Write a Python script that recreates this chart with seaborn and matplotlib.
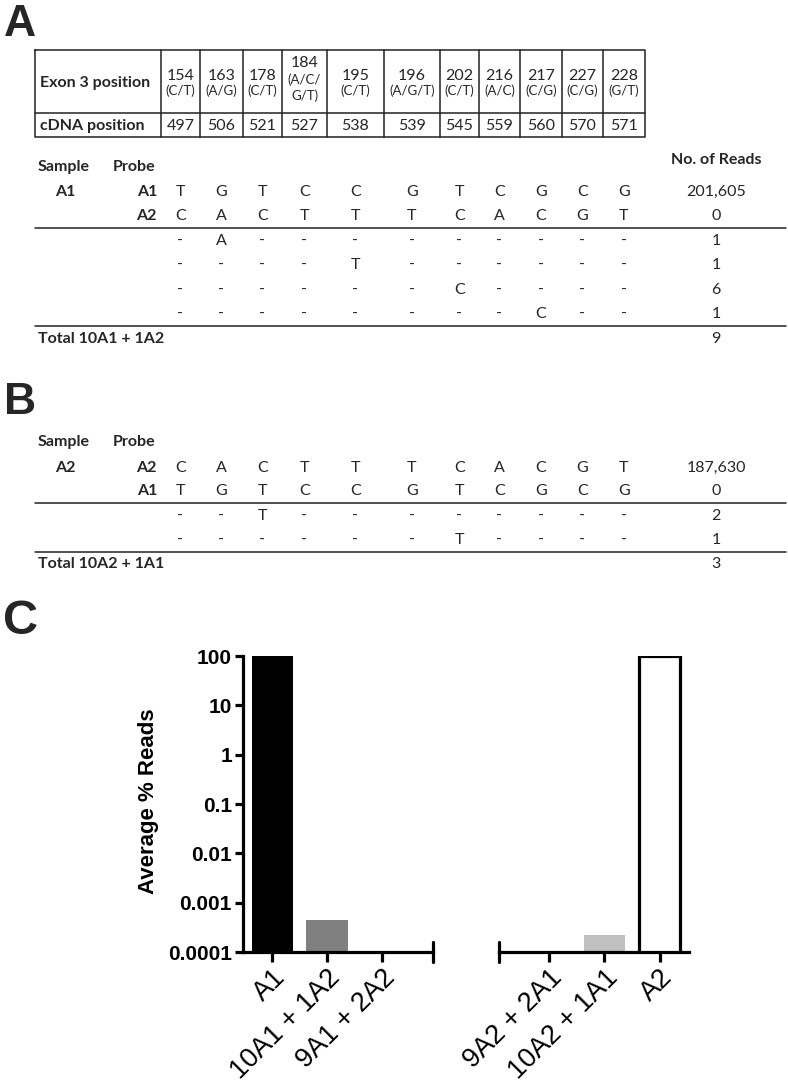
import numpy as np
import pandas as pd
import matplotlib
matplotlib.use("Agg")
import matplotlib.pyplot as plt
from matplotlib.ticker import NullLocator
import seaborn as sns

# ---------------- data ----------------
exon_positions = ["154", "163", "178", "184", "195", "196", "202", "216", "217", "227", "228"]
exon_alleles = ["(C/T)", "(A/G)", "(C/T)", "(A/C/\nG/T)", "(C/T)", "(A/G/T)", "(C/T)",
                "(A/C)", "(C/G)", "(C/G)", "(G/T)"]
cdna_positions = ["497", "506", "521", "527", "538", "539", "545", "559", "560", "570", "571"]

a1_probe = ["T", "G", "T", "C", "C", "G", "T", "C", "G", "C", "G"]
a2_probe = ["C", "A", "C", "T", "T", "T", "C", "A", "C", "G", "T"]

# panel A: sample A1
a_probe_rows = [("A1", a1_probe, "201,605"), ("A2", a2_probe, "0")]
a_variants = [
    ["-", "A", "-", "-", "-", "-", "-", "-", "-", "-", "-"],
    ["-", "-", "-", "-", "T", "-", "-", "-", "-", "-", "-"],
    ["-", "-", "-", "-", "-", "-", "C", "-", "-", "-", "-"],
    ["-", "-", "-", "-", "-", "-", "-", "-", "C", "-", "-"],
]
a_variant_reads = ["1", "1", "6", "1"]
a_total_label = "Total 10A1 + 1A2"
a_total = "9"

# panel B: sample A2
b_probe_rows = [("A2", a2_probe, "187,630"), ("A1", a1_probe, "0")]
b_variants = [
    ["-", "-", "T", "-", "-", "-", "-", "-", "-", "-", "-"],
    ["-", "-", "-", "-", "-", "-", "T", "-", "-", "-", "-"],
]
b_variant_reads = ["2", "1"]
b_total_label = "Total 10A2 + 1A1"
b_total = "3"

# panel C: bars
left_groups = ["A1", "10A1 + 1A2", "9A1 + 2A2"]
left_values = [100.0, 0.00045, np.nan]
left_colors = ["#000000", "#808080", "#ffffff"]
right_groups = ["9A2 + 2A1", "10A2 + 1A1", "A2"]
right_values = [np.nan, 0.00022, 100.0]
right_colors = ["#ffffff", "#c0c0c0", "#ffffff"]
outlined_groups = ["A2"]
ytick_values = [1e-4, 1e-3, 1e-2, 1e-1, 1, 10, 100]
ytick_labels = ["0.0001", "0.001", "0.01", "0.1", "1", "10", "100"]

# ---------------- figure ----------------
sns.set_theme(style="white")
plt.rcParams["font.family"] = ["Lato", "DejaVu Sans"]

W, H = 788, 1083
fig = plt.figure(figsize=(W / 100, H / 100), dpi=100)
fig.patch.set_facecolor("white")

ov = fig.add_axes([0, 0, 1, 1], zorder=0)
ov.set_xlim(0, W)
ov.set_ylim(H, 0)
ov.axis("off")

TXT = 11.5
LW = 1.1
letter_font = ["Liberation Sans", "DejaVu Sans"]

# panel letters
ov.text(4, 24, "A", fontsize=32, fontweight="bold", family=letter_font, va="center", ha="left")
ov.text(4, 403, "B", fontsize=32, fontweight="bold", family=letter_font, va="center", ha="left")
ov.text(3, 622, "C", fontsize=35, fontweight="bold", family=letter_font, va="center", ha="left")

# table (panel A header)
col_edges = [161, 200, 243, 282, 327, 384, 440, 479, 520, 562, 603, 645]
col_centers = [(col_edges[i] + col_edges[i + 1]) / 2 for i in range(len(col_edges) - 1)]
t_left, t_top, t_mid, t_bot = 35, 50, 113, 137
ov.plot([t_left, col_edges[-1], col_edges[-1], t_left, t_left],
        [t_top, t_top, t_bot, t_bot, t_top], color="#222222", lw=LW)
ov.plot([t_left, col_edges[-1]], [t_mid, t_mid], color="#222222", lw=LW)
for xe in col_edges[:-1]:
    ov.plot([xe, xe], [t_top, t_bot], color="#222222", lw=LW)
ov.text(40, 83, "Exon 3 position", fontsize=TXT, fontweight="bold", va="center", ha="left")
ov.text(40, 126, "cDNA position", fontsize=TXT, fontweight="bold", va="center", ha="left")
for xc, pos, al, cd in zip(col_centers, exon_positions, exon_alleles, cdna_positions):
    if "\n" in al:
        ov.text(xc, 63, pos, fontsize=TXT, va="center", ha="center")
        ov.text(xc, 88, al, fontsize=9.5, va="center", ha="center", linespacing=1.3)
    else:
        ov.text(xc, 76, pos, fontsize=TXT, va="center", ha="center")
        ov.text(xc, 91, al, fontsize=9.5, va="center", ha="center")
    ov.text(xc, 126, cd, fontsize=TXT, va="center", ha="center")

READS_X = 716


def draw_block(y_head, sample, probe_rows, row_y, line1, variants, var_y, var_reads,
               line2, total_label, total_y, total, reads_head_y=None):
    ov.text(38, y_head, "Sample", fontsize=TXT, fontweight="bold", va="center", ha="left")
    ov.text(113, y_head, "Probe", fontsize=TXT, fontweight="bold", va="center", ha="left")
    if reads_head_y is not None:
        ov.text(READS_X, reads_head_y, "No. of Reads", fontsize=TXT, fontweight="bold",
                va="center", ha="center")
    ov.text(65, row_y[0], sample, fontsize=TXT, fontweight="bold", va="center", ha="center")
    for y, (probe, seq, reads) in zip(row_y, probe_rows):
        ov.text(157, y, probe, fontsize=TXT, fontweight="bold", va="center", ha="right")
        for xc, b in zip(col_centers, seq):
            ov.text(xc, y, b, fontsize=TXT, va="center", ha="center")
        ov.text(READS_X, y, reads, fontsize=TXT, va="center", ha="center")
    ov.plot([35, 786], [line1, line1], color="#222222", lw=LW)
    for y, row, reads in zip(var_y, variants, var_reads):
        for xc, b in zip(col_centers, row):
            ov.text(xc, y, b, fontsize=TXT, va="center", ha="center")
        ov.text(READS_X, y, reads, fontsize=TXT, va="center", ha="center")
    ov.plot([35, 786], [line2, line2], color="#222222", lw=LW)
    ov.text(38, total_y, total_label, fontsize=TXT, fontweight="bold", va="center", ha="left")
    ov.text(READS_X, total_y, total, fontsize=TXT, va="center", ha="center")


draw_block(167, "A1", a_probe_rows, [192, 216], 228, a_variants, [241, 265, 290, 314],
           a_variant_reads, 326, a_total_label, 339, a_total, reads_head_y=160)
draw_block(442, "A2", b_probe_rows, [468, 491], 503, b_variants, [516, 540],
           b_variant_reads, 552, b_total_label, 564, b_total)

# ---------------- panel C: bar chart (broken x axis) ----------------
y_top_px, y_bot_px = 656, 952
ax_h = (y_bot_px - y_top_px) / H
ax_b = (H - y_bot_px) / H
ax1 = fig.add_axes([243 / W, ax_b, 190 / W, ax_h], zorder=2)
ax2 = fig.add_axes([499 / W, ax_b, 190 / W, ax_h], zorder=2)

SPW = 2.3
arial = ["Liberation Sans", "DejaVu Sans"]

for ax, groups, vals, cols, xl in [
    (ax1, left_groups, left_values, left_colors, (-0.53, 2.93)),
    (ax2, right_groups, right_values, right_colors, (-0.91, 2.53)),
]:
    df = pd.DataFrame({"group": groups, "value": vals})
    sns.barplot(data=df, x="group", y="value", hue="group", order=groups, hue_order=groups,
                palette=cols, saturation=1, width=0.75, legend=False, ax=ax, errorbar=None)
    for patch in ax.patches:
        idx = int(round(patch.get_x() + patch.get_width() / 2))
        if groups[idx] in outlined_groups:
            patch.set_edgecolor("black")
            patch.set_linewidth(SPW)
        else:
            patch.set_linewidth(0)
    ax.set_facecolor("none")
    ax.set_yscale("log")
    ax.set_ylim(1e-4, 100)
    ax.set_xlim(*xl)
    ax.yaxis.set_minor_locator(NullLocator())
    ax.set_xlabel("")
    ax.set_ylabel("")
    for s in ["top", "right"]:
        ax.spines[s].set_visible(False)
    ax.spines["bottom"].set_linewidth(SPW)
    ax.spines["bottom"].set_color("black")
    ax.spines["left"].set_linewidth(SPW)
    ax.spines["left"].set_color("black")
    ax.tick_params(axis="x", direction="out", length=7, width=SPW, color="black",
                   bottom=True, pad=2)
    ax.set_xticks(range(len(groups)))
    ax.set_xticklabels(groups, rotation=45, ha="right", rotation_mode="anchor",
                       fontsize=19.5, family=arial, color="black")
    ax.grid(False)

ax1.set_yticks(ytick_values)
ax1.set_yticklabels(ytick_labels, fontsize=15, fontweight="bold", family=arial, color="black")
ax1.tick_params(axis="y", direction="out", length=6, width=SPW, color="black", left=True, pad=2)
ax1.set_ylabel("Average % Reads", fontsize=16, fontweight="bold", family=arial, color="black")
ax1.yaxis.set_label_coords(-0.44, 0.51)

ax2.spines["left"].set_visible(False)
ax2.set_yticks([])
ax2.tick_params(axis="y", left=False, labelleft=False)

# broken axis end marks
ax1.plot([1, 1], [-0.033, 0.033], transform=ax1.transAxes, color="black", lw=SPW, clip_on=False)
ax2.plot([0, 0], [-0.033, 0.033], transform=ax2.transAxes, color="black", lw=SPW, clip_on=False)

fig.savefig("out.png", dpi=100, facecolor="white")
